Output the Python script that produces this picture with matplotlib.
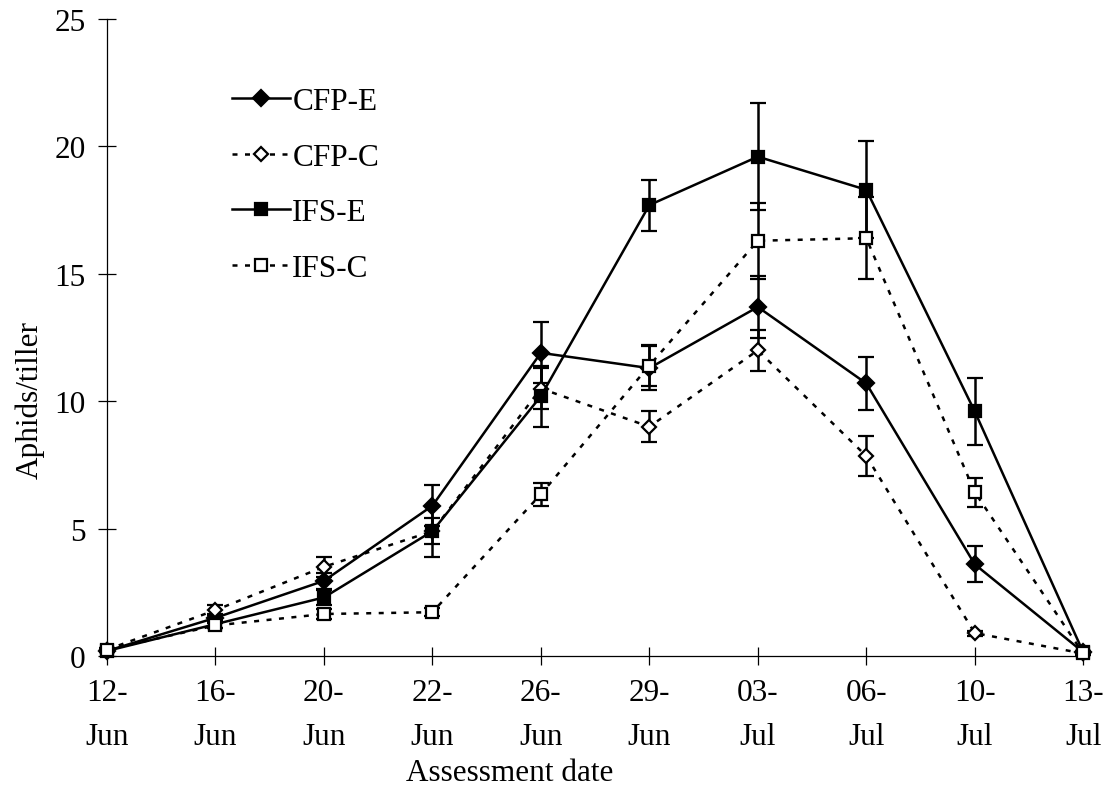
import numpy as np
import matplotlib.pyplot as plt
from matplotlib.lines import Line2D

plt.rcParams['font.family'] = ['Liberation Serif', 'DejaVu Serif']

dates = ['12-\nJun', '16-\nJun', '20-\nJun', '22-\nJun', '26-\nJun',
         '29-\nJun', '03-\nJul', '06-\nJul', '10-\nJul', '13-\nJul']

cfp_e = [0.2, 1.5, 2.95, 5.9, 11.9, 11.3, 13.7, 10.7, 3.6, 0.15]
cfp_e_err = [0.05, 0.15, 0.3, 0.8, 1.2, 0.85, 1.2, 1.05, 0.7, 0.05]

cfp_c = [0.25, 1.8, 3.5, 4.9, 10.5, 9.0, 12.0, 7.85, 0.9, 0.1]
cfp_c_err = [0.05, 0.2, 0.4, 0.5, 0.8, 0.6, 0.8, 0.8, 0.1, 0.05]

ifs_e = [0.2, 1.25, 2.3, 4.9, 10.2, 17.7, 19.6, 18.3, 9.6, 0.15]
ifs_e_err = [0.05, 0.15, 0.3, 1.0, 1.2, 1.0, 2.1, 1.9, 1.3, 0.05]

ifs_c = [0.25, 1.2, 1.65, 1.72, 6.35, 11.4, 16.3, 16.4, 6.43, 0.1]
ifs_c_err = [0.05, 0.1, 0.2, 0.15, 0.45, 0.8, 1.5, 1.6, 0.57, 0.05]

x = np.arange(len(dates))
dotted = (0, (2, 3))
fs = 22.5

fig = plt.figure(figsize=(11.11, 8.04), dpi=100)
ax = fig.add_axes([0.0963, 0.1828, 0.8787, 0.7922])

series = [
    ('CFP-E', cfp_e, cfp_e_err, '-', 'D', 'black', 8),
    ('CFP-C', cfp_c, cfp_c_err, dotted, 'D', 'white', 7),
    ('IFS-E', ifs_e, ifs_e_err, '-', 's', 'black', 9),
    ('IFS-C', ifs_c, ifs_c_err, dotted, 's', 'white', 8),
]

handles = []
for name, vals, err, ls, mk, face, ms in series:
    ax.errorbar(x, vals, yerr=err, color='black', linestyle=ls, linewidth=1.8,
                marker=mk, markersize=ms, markerfacecolor=face,
                markeredgecolor='black', markeredgewidth=1.6,
                ecolor='black', elinewidth=1.8, capsize=5.5, capthick=1.8,
                clip_on=False, zorder=3)
    # legend entries show only line + marker, no error bars
    handles.append(Line2D([], [], color='black', linestyle=ls, linewidth=1.8,
                          marker=mk, markersize=ms, markerfacecolor=face,
                          markeredgecolor='black', markeredgewidth=1.6,
                          label=name))

ax.set_xlim(0, 9)
ax.set_ylim(0, 25)
ax.set_yticks([0, 5, 10, 15, 20, 25])
ax.set_xticks(x)
ax.set_xticklabels(dates, linespacing=1.7)

for side in ['top', 'right']:
    ax.spines[side].set_visible(False)
for side in ['left', 'bottom']:
    ax.spines[side].set_linewidth(0.9)

ax.tick_params(axis='both', direction='inout', length=13, width=0.9,
               labelsize=fs)
ax.tick_params(axis='x', pad=9)
ax.tick_params(axis='y', pad=9)

ax.set_xlabel('Assessment date', fontsize=fs)
ax.xaxis.set_label_coords(0.413, -0.16)
ax.set_ylabel('Aphids/tiller', fontsize=fs)
ax.yaxis.set_label_coords(-0.064, 0.403)

ax.legend(handles=handles, loc='upper left',
          bbox_to_anchor=(0.128, 0.893), frameon=False, fontsize=fs,
          handlelength=1.85, handletextpad=0.08, labelspacing=0.85,
          borderpad=0, borderaxespad=0)

fig.savefig('out.png', dpi=100)
